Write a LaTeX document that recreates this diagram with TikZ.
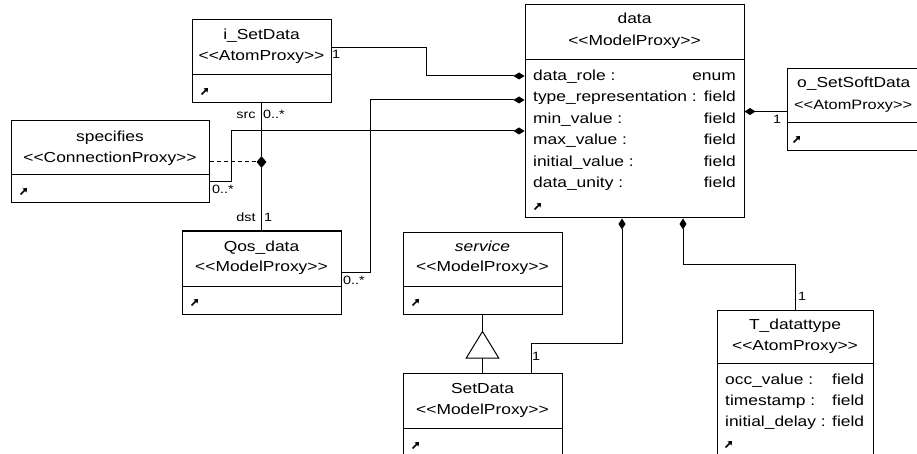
\documentclass[tikz,border=0pt]{standalone}
\usepackage{fontspec}
\setmainfont{Liberation Sans}[FakeStretch=1.2]
\usetikzlibrary{positioning,calc,arrows.meta,shapes.geometric}

\begin{document}
\begin{tikzpicture}[x=1pt,y=-1pt,
	class/.style={draw, line width=1pt, inner sep=0pt},
	txt/.style={inner sep=0pt, text height=10pt, text depth=3pt, font=\fontsize{14.5}{17}\selectfont},
	lbl/.style={inner sep=0pt, text height=9pt, text depth=2pt, font=\fontsize{12}{14}\selectfont},
	link/.style={line width=1pt},
	comp/.style={link, {Diamond[length=11pt,width=7pt]}-},
	knotmark/.style={diamond, fill=black, inner sep=0pt, minimum width=10pt, minimum height=12pt},
	linkicon/.pic={\draw[line width=1.5pt,-{Triangle[length=3.5pt,width=5.5pt]}] (-3.5,3.5) -- (3,-3);}]
	\useasboundingbox[fill=white] (0,0) rectangle (917,454);

	% class boxes
	\node[class, minimum width=139pt, minimum height=83pt] (iset) at (261.5,61.5) {};
	\node[class, minimum width=198pt, minimum height=82pt] (spec) at (110,162) {};
	\node[class, minimum width=159pt, minimum height=83pt] (qos) at (261.5,272.5) {};
	\node[class, minimum width=219pt, minimum height=213pt] (data) at (634.5,111.5) {};
	\node[class, minimum width=140pt, minimum height=82pt] (osoft) at (857,110) {};
	\node[class, minimum width=159pt, minimum height=82pt] (service) at (482.5,273) {};
	\node[class, minimum width=159pt, minimum height=83pt] (setdata) at (482.5,414.5) {};
	\node[class, minimum width=156pt, minimum height=160pt] (ttype) at (795,390) {};

	% separators
	\draw[link] (iset.west |- 0,75) -- (iset.east |- 0,75);
	\draw[link] (spec.west |- 0,175) -- (spec.east |- 0,175);
	\draw[link] (qos.west |- 0,286) -- (qos.east |- 0,286);
	\draw[link] (data.west |- 0,60) -- (data.east |- 0,60);
	\draw[link] (osoft.west |- 0,123) -- (osoft.east |- 0,123);
	\draw[link] (service.west |- 0,286) -- (service.east |- 0,286);
	\draw[link] (setdata.west |- 0,428) -- (setdata.east |- 0,428);
	\draw[link] (ttype.west |- 0,363) -- (ttype.east |- 0,363);

	% names and stereotypes
	\node[txt] (iset-name) at (261.5,36) {i\_SetData};
	\node[txt] (iset-st) at (261.5,57) {<{}<AtomProxy>{}>};
	\node[txt] (spec-name) at (110,138) {specifies};
	\node[txt] (spec-st) at (110,159) {<{}<ConnectionProxy>{}>};
	\node[txt] (qos-name) at (261.5,248) {Qos\_data};
	\node[txt] (qos-st) at (261.5,268) {<{}<ModelProxy>{}>};
	\node[txt] (data-name) at (634.5,20) {data};
	\node[txt] (data-st) at (634.5,42) {<{}<ModelProxy>{}>};
	\node[txt, anchor=west] (osoft-name) at (797,84) {o\_SetSoftData};
	\node[txt, anchor=west, font=\fontsize{13.6}{16}\selectfont] (osoft-st) at (794,106) {<{}<AtomProxy>{}>};
	\node[txt] (service-name) at (482.5,248) {\itshape service};
	\node[txt] (service-st) at (482.5,268) {<{}<ModelProxy>{}>};
	\node[txt] (setdata-name) at (482.5,390) {SetData};
	\node[txt] (setdata-st) at (482.5,411) {<{}<ModelProxy>{}>};
	\node[txt] (ttype-name) at (795,326) {T\_datattype};
	\node[txt] (ttype-st) at (795,347) {<{}<AtomProxy>{}>};

	% attributes
	\foreach \nm/\ty [count=\i] in {data\_role :/enum, type\_representation :/field, min\_value :/field,
		max\_value :/field, initial\_value :/field, data\_unity :/field}
	{
		\node[txt, anchor=west] (data-a\i) at (533,55.5+21.5*\i) {\nm};
		\node[txt, anchor=east] (data-t\i) at (736,55.5+21.5*\i) {\ty};
	}
	\foreach \nm [count=\i] in {occ\_value :, timestamp :, initial\_delay :}
	{
		\node[txt, anchor=west] (ttype-a\i) at (725,360+21*\i) {\nm};
		\node[txt, anchor=west] (ttype-t\i) at (832,360+21*\i) {field};
	}

	% icons
	\pic at (205,91) {linkicon};
	\pic at (24,191) {linkicon};
	\pic at (195,302) {linkicon};
	\pic at (538,206) {linkicon};
	\pic at (797,139) {linkicon};
	\pic at (416,302) {linkicon};
	\pic at (416,445) {linkicon};
	\pic at (729,444) {linkicon};

	% connectors
	\node[knotmark] (knot) at (261.5,162) {};
	\draw[link] (iset.south) -- (knot) -- (qos.north);
	\draw[link, dash pattern=on 4pt off 3pt] (spec.east) -- (knot);
	\draw[comp] ([yshift=35.5pt]data.west) -- ++(-98,0) |- ([yshift=13.5pt]iset.east);
	\draw[comp] ([yshift=11.5pt]data.west) -- ++(-154,0) |- (qos.east);
	\draw[comp] ([yshift=-19.5pt]data.west) -- ++(-293,0) |- ([yshift=-20pt]spec.east);
	\draw[comp] (data.east) -- (data.east -| osoft.west);
	\draw[comp] ([xshift=-12.5pt]data.south) -- ++(0,125) -| ([xshift=48.5pt]setdata.north);
	\draw[comp] ([xshift=48.5pt]data.south) -- ++(0,46) -| (ttype.north);
	\coordinate (gen) at ($(service.south)+(0,16)$);
	\draw[link, -{Triangle[open, length=28pt, width=34pt]}] (setdata.north) -- (gen);
	\draw[link] (gen) -- (service.south);

	% multiplicities and roles
	\node[lbl] (m-iset) at (336,55) {1};
	\node[lbl] (r-src) at (246,115) {src};
	\node[lbl] (m-src) at (274,115) {0..*};
	\node[lbl] (r-dst) at (246,218) {dst};
	\node[lbl] (m-dst) at (268,218) {1};
	\node[lbl] (m-spec) at (223,190) {0..*};
	\node[lbl] (m-qos) at (354,281) {0..*};
	\node[lbl] (m-osoft) at (777,120) {1};
	\node[lbl] (m-setdata) at (536,357) {1};
	\node[lbl] (m-ttype) at (802,297) {1};
\end{tikzpicture}
\end{document}
